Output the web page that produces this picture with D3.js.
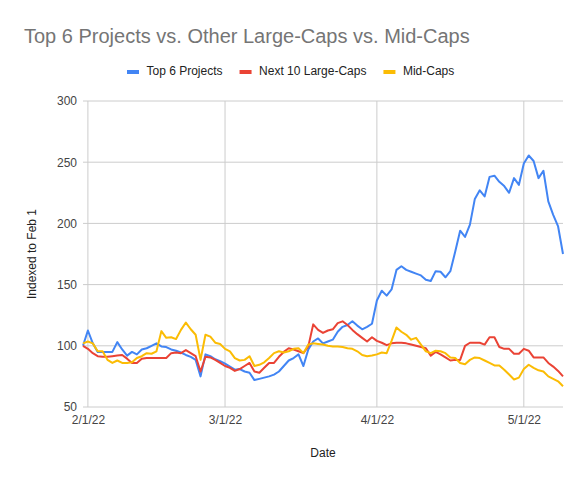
<!DOCTYPE html>
<html>
<head>
<meta charset="utf-8">
<script src="https://cdn.jsdelivr.net/npm/d3@7"></script>
<style>
  body { margin: 0; background: #fff; }
  text { font-family: "Liberation Sans", Arial, sans-serif; }
</style>
</head>
<body>
<svg id="chart"></svg>
<script>
// daily closes, indexed, starting 1/31/22
var startDate = "2022-01-31";

var top6 = [100, 112.5, 102, 95, 95, 95, 95, 103, 97, 92, 95, 93, 97, 98, 100, 102,
  99.5, 99, 97, 96, 94.5, 92.5, 91, 88.5, 75, 93, 91.5, 89, 87.5, 85.5, 83, 80.5,
  81, 79, 78, 72, 73, 74, 75, 76.5, 79, 83.5, 88, 90, 93, 83.5, 97, 103.5,
  106, 102, 103.5, 105, 111.5, 115.5, 117, 120, 116.5, 113.5, 115.5, 118, 137, 145,
  141, 146, 162, 165, 162, 160.5, 159, 157.5, 154, 153, 161, 160.5, 156, 161,
  177, 194, 189, 199, 220, 227, 222, 238, 239, 234, 230.5, 225, 237, 231.5,
  249, 255.5, 251, 237, 243, 218, 207, 197.5, 175];

var next10 = [100, 97.5, 94, 91.5, 91, 91, 91.5, 92, 92.5, 89.5, 86, 86, 89.5, 90, 90, 90,
  90, 90, 94, 94.5, 94, 96.5, 94, 91.5, 79, 91, 90.5, 88.5, 86, 83.5, 82, 79.5,
  81, 83.5, 86, 79, 78, 82, 86, 86, 91, 95, 98, 97, 95.5, 94, 99.5, 117.5,
  113, 110.5, 112.5, 113.5, 118.5, 120, 117, 113, 109.5, 106.5, 103.5, 107, 104, 102.5,
  100.5, 102, 102.5, 102.5, 102, 101, 100, 99, 98, 92, 95, 93, 90.5, 88,
  88.5, 88.5, 100, 102.5, 102.5, 102.5, 101, 107, 107, 99, 97.5, 97.5, 93.5, 93.5,
  97.5, 96, 90.5, 90.5, 90.5, 86, 83, 79.5, 75];

var midCaps = [102, 103.5, 102, 95.5, 95.5, 88.5, 86, 88, 86, 86, 86.5, 90, 91.5, 94, 93.5, 95.5,
  112, 106.5, 107, 105.5, 113, 119, 113.5, 109, 88.5, 109, 107.5, 102.5, 101.5, 97.5, 95.5, 90,
  88, 88.5, 91.5, 83.5, 84.5, 86.5, 90, 94, 95.5, 94.5, 95.5, 97.5, 98, 94, 101, 102,
  101.5, 101, 100, 99.5, 99.5, 99, 98, 97.5, 95.5, 92.5, 91.5, 92, 93, 94.5,
  94, 104, 115, 111.5, 109, 105, 106.5, 101, 95.5, 94, 96, 95.5, 94, 90.5,
  90, 86, 85, 88.5, 90.5, 90, 88, 86, 84, 84, 80.5, 76.5, 72.5, 74,
  81, 84.5, 82, 80, 79, 75, 73, 71, 67];

var seriesNames = ["Top 6 Projects", "Next 10 Large-Caps", "Mid-Caps"];
var seriesColors = ["#4285f4", "#ea4335", "#fbbc04"];
var yTicks = [50, 100, 150, 200, 250, 300];
var xTickDates = ["2022-02-01", "2022-03-01", "2022-04-01", "2022-05-01"];

var svgWidth = 588, svgHeight = 484;
var margin = { top: 101, right: 25, bottom: 77, left: 83 };
var width = svgWidth - margin.left - margin.right;
var height = svgHeight - margin.top - margin.bottom;

var parse = d3.timeParse("%Y-%m-%d");
var fmt = d3.timeFormat("%-m/%-d/%y");
var dates = top6.map(function(v, i) { return d3.timeDay.offset(parse(startDate), i); });

var svg = d3.select("#chart")
    .attr("width", svgWidth)
    .attr("height", svgHeight);

var g = svg.append("g")
    .attr("transform", "translate(" + margin.left + "," + margin.top + ")");

var x = d3.scaleTime()
    .domain(d3.extent(dates))
    .range([0, width]);

var y = d3.scaleLinear()
    .domain([50, 300])
    .range([height, 0]);

// gridlines
g.append("g")
    .selectAll("line")
    .data(yTicks)
    .join("line")
    .attr("x1", 0).attr("x2", width)
    .attr("y1", function(d) { return y(d); })
    .attr("y2", function(d) { return y(d); })
    .attr("stroke", "#cccccc")
    .attr("stroke-width", 1);

g.append("g")
    .selectAll("line")
    .data(xTickDates.map(parse))
    .join("line")
    .attr("x1", function(d) { return x(d); })
    .attr("x2", function(d) { return x(d); })
    .attr("y1", 0).attr("y2", height)
    .attr("stroke", "#cccccc")
    .attr("stroke-width", 1);

// axes (labels only)
var yAxis = g.append("g")
    .call(d3.axisLeft(y).tickValues(yTicks).tickSize(0).tickPadding(6));
yAxis.select(".domain").remove();
yAxis.selectAll("text")
    .attr("fill", "#444")
    .style("font-size", "12px")
    .style("font-family", '"Liberation Sans", Arial, sans-serif');

var xAxis = g.append("g")
    .attr("transform", "translate(0," + height + ")")
    .call(d3.axisBottom(x).tickValues(xTickDates.map(parse)).tickFormat(fmt).tickSize(0).tickPadding(8));
xAxis.select(".domain").remove();
xAxis.selectAll("text")
    .attr("fill", "#444")
    .style("font-size", "12px")
    .style("font-family", '"Liberation Sans", Arial, sans-serif');

// lines
var allSeries = [top6, next10, midCaps];
var line = d3.line()
    .x(function(d, i) { return x(dates[i]); })
    .y(function(d) { return y(d); });

allSeries.forEach(function(s, k) {
  g.append("path")
      .datum(s)
      .attr("fill", "none")
      .attr("stroke", seriesColors[k])
      .attr("stroke-width", 2)
      .attr("stroke-linejoin", "round")
      .attr("d", line);
});

// title
svg.append("text")
    .attr("x", 24)
    .attr("y", 43)
    .attr("fill", "#757575")
    .style("font-size", "20px")
    .text("Top 6 Projects vs. Other Large-Caps vs. Mid-Caps");

// axis titles
svg.append("text")
    .attr("x", margin.left + width / 2)
    .attr("y", 457)
    .attr("text-anchor", "middle")
    .attr("fill", "#222")
    .style("font-size", "12px")
    .text("Date");

svg.append("text")
    .attr("transform", "translate(36," + (margin.top + height / 2) + ") rotate(-90)")
    .attr("text-anchor", "middle")
    .attr("fill", "#222")
    .style("font-size", "12px")
    .text("Indexed to Feb 1");

// legend
var legend = svg.append("g").attr("transform", "translate(127,0)");
var lx = 0;
seriesNames.forEach(function(name, k) {
  var item = legend.append("g").attr("transform", "translate(" + lx + ",0)");
  item.append("rect")
      .attr("x", 0).attr("y", 70)
      .attr("width", 12).attr("height", 4)
      .attr("fill", seriesColors[k]);
  var t = item.append("text")
      .attr("x", 19.5).attr("y", 75)
      .attr("fill", "#222")
      .style("font-size", "12px")
      .text(name);
  lx += 19.5 + t.node().getComputedTextLength() + 17;
});
</script>
</body>
</html>
